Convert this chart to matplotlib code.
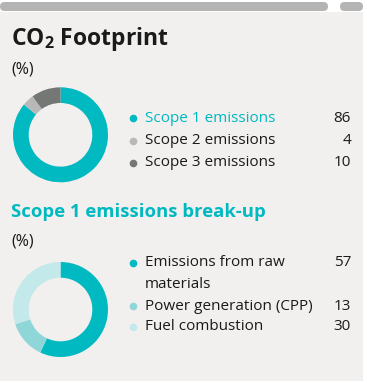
import matplotlib
matplotlib.use('Agg')
import matplotlib.pyplot as plt
from matplotlib.patches import FancyBboxPatch, Rectangle

# data
co2_labels = ['Scope 1 emissions', 'Scope 2 emissions', 'Scope 3 emissions']
co2_values = [86, 4, 10]
co2_colors = ['#00b9c1', '#b8b8b8', '#757775']

s1_labels = ['Emissions from raw\nmaterials', 'Power generation (CPP)', 'Fuel combustion']
s1_values = [57, 13, 30]
s1_colors = ['#00b9c1', '#8fd6d8', '#c3e9ea']

W, H = 367, 383
teal = '#00b9c1'
txt = '#1a1a1a'
plt.rcParams['font.family'] = ['Open Sans', 'DejaVu Sans']

fig = plt.figure(figsize=(W / 100, H / 100), dpi=100)
fig.patch.set_facecolor('white')

# full-figure axes in pixel coordinates for the background and text
bg = fig.add_axes([0, 0, 1, 1])
bg.set_xlim(0, W)
bg.set_ylim(H, 0)
bg.axis('off')
bg.add_patch(Rectangle((0, 12), 363, 369, facecolor='#f1f0ef', edgecolor='none'))
bg.add_patch(FancyBboxPatch((0, 2), 328, 9, boxstyle='round,pad=0,rounding_size=4.5',
                            facecolor='#b4b4b4', edgecolor='none'))
bg.add_patch(FancyBboxPatch((340, 2), 23, 9, boxstyle='round,pad=0,rounding_size=4.5',
                            facecolor='#b4b4b4', edgecolor='none'))


def donut(cx, cy, r, values, colors):
    ax = fig.add_axes([(cx - r) / W, 1 - (cy + r) / H, 2 * r / W, 2 * r / H])
    ax.pie(values, colors=colors, startangle=90, counterclock=False,
           wedgeprops=dict(width=0.33, edgecolor='none'))
    ax.set_xlim(-1, 1)
    ax.set_ylim(-1, 1)
    ax.set_aspect('auto')
    ax.axis('off')


def legend(rows, labels, values, colors, label_colors):
    for y, lab, v, c, lc in zip(rows, labels, values, colors, label_colors):
        bg.plot(133, y, 'o', color=c, markersize=5.5, markeredgewidth=0)
        # one text per line so the first line stays on the dot
        for i, line in enumerate(lab.split('\n')):
            bg.text(145, y + 21 * i, line, fontsize=11, color=lc, va='center', ha='left')
        bg.text(351, y, str(v), fontsize=11, color=txt, va='center', ha='right')


# section 1
bg.text(11, 45, 'CO$_\\mathregular{2}$ Footprint', fontsize=16.5, fontweight='bold',
        color=txt, va='baseline')
bg.text(11, 70, '(%)', fontsize=11.5, color=txt, va='center')
donut(60.5, 134.8, 47.5, co2_values, co2_colors)
legend([118, 141, 163], co2_labels, co2_values, co2_colors, [teal, txt, txt])

# section 2
bg.text(11, 212, 'Scope 1 emissions break-up', fontsize=13.3, fontweight='bold',
        color=teal, va='center')
bg.text(11, 242, '(%)', fontsize=11.5, color=txt, va='center')
donut(60.5, 309.5, 47.5, s1_values, s1_colors)
legend([263, 306, 327], s1_labels, s1_values, s1_colors, [txt, txt, txt])

fig.savefig('out.png', dpi=100, facecolor='white')
